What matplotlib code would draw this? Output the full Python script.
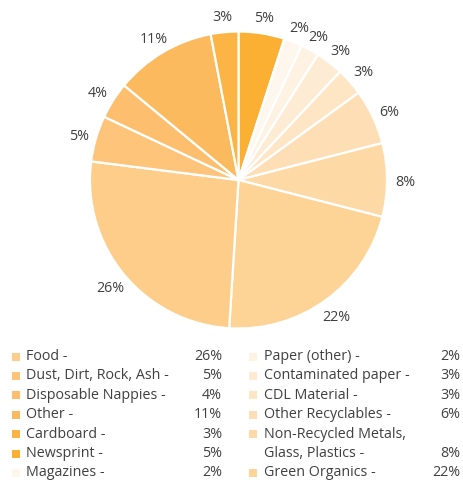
import matplotlib.pyplot as plt
from matplotlib.patches import Rectangle

# clockwise from 12 o'clock
categories = ["Newsprint", "Magazines", "Paper (other)", "Contaminated paper",
              "CDL Material", "Other Recyclables",
              "Non-Recycled Metals,\nGlass, Plastics", "Green Organics",
              "Food", "Dust, Dirt, Rock, Ash", "Disposable Nappies",
              "Other", "Cardboard"]
values = [5, 2, 2, 3, 3, 6, 8, 22, 26, 5, 4, 11, 3]
colors = ["#FBB034", "#FEF7EE", "#FEF2E2", "#FEEBD3", "#FEE5C4", "#FEDFB5",
          "#FDD9A6", "#FDD396", "#FDCD89", "#FDC47A", "#FDBF6E", "#FCBA5E",
          "#FCB445"]

# legend columns (order as shown)
left_col = ["Food", "Dust, Dirt, Rock, Ash", "Disposable Nappies", "Other",
            "Cardboard", "Newsprint", "Magazines"]
right_col = ["Paper (other)", "Contaminated paper", "CDL Material",
             "Other Recyclables", "Non-Recycled Metals,\nGlass, Plastics",
             "Green Organics"]

plt.rcParams['font.family'] = ['Open Sans', 'DejaVu Sans']
text_col = "#404040"
fs = 10.3

W, H = 463, 480
fig = plt.figure(figsize=(W / 100, H / 100), dpi=100)

cx, cy, r = 238.5, 180, 148.5
ax = fig.add_axes([(cx - r) / W, (H - cy - r) / H, 2 * r / W, 2 * r / H])
wedges, texts, autotexts = ax.pie(
    values, colors=colors, startangle=90, counterclock=False,
    autopct=lambda p: f"{p:.0f}%", pctdistance=1.12,
    wedgeprops=dict(edgecolor="white", linewidth=1.6),
    textprops=dict(color=text_col, fontsize=fs))
# labels sit slightly lower than the slice mid-angle
for t in autotexts:
    x, y = t.get_position()
    t.set_position((x, y - 0.02))
ax.set_xlim(-1, 1)
ax.set_ylim(-1, 1)
ax.set_aspect("equal")
ax.axis("off")

lookup = dict(zip(categories, zip(values, colors)))


def fy(py):
    return 1 - py / H


def draw_column(items, sq_x, txt_x, pct_x, y0=356.5, step=19.4):
    row = 0
    for name in items:
        v, c = lookup[name]
        y = y0 + row * step
        fig.patches.append(Rectangle((sq_x / W, fy(y + 4)), 8 / W, 8 / H,
                                     transform=fig.transFigure,
                                     facecolor=c, edgecolor="none"))
        lines = name.split("\n")
        for i, ln in enumerate(lines):
            suffix = " -" if i == len(lines) - 1 else ""
            fig.text(txt_x / W, fy(y + i * step), ln + suffix, fontsize=fs,
                     color=text_col, va="center", ha="left")
        fig.text(pct_x / W, fy(y + (len(lines) - 1) * step), f"{v}%",
                 fontsize=fs, color=text_col, va="center", ha="right")
        row += len(lines)


draw_column(left_col, 12, 26, 222)
draw_column(right_col, 249, 264, 460)

fig.savefig("out.png", dpi=100)
